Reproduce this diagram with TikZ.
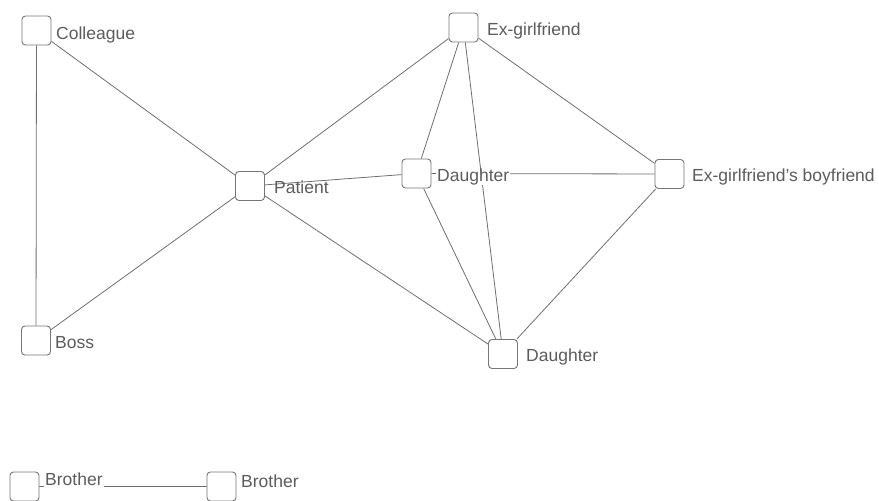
\documentclass[tikz,border=0pt]{standalone}
\usepackage{fontspec}
\setmainfont{Liberation Sans}
\pgfdeclarelayer{bg}
\pgfsetlayers{bg,main}
\definecolor{edgegray}{RGB}{110,110,110}
\definecolor{boxgray}{RGB}{118,118,118}
\definecolor{txtgray}{RGB}{92,92,92}
\begin{document}
\begin{tikzpicture}[x=1pt,y=-1pt,
  person/.style={draw=boxgray, line width=0.9pt, rounded corners=3.5pt, minimum size=29pt, inner sep=0pt, fill=white},
  lbl/.style={fill=white, inner sep=1pt, text=txtgray, font=\fontsize{17.5}{20}\selectfont, anchor=base west, text depth=0.3em, text height=0.75em},
  tie/.style={draw=edgegray, line width=0.8pt}]
\useasboundingbox (0,0) rectangle (879,501);
% boxes
\node[person] (col) at (36.5,30.5) {};
\node[person] (boss) at (36,340.5) {};
\node[person] (pat) at (250,186) {};
\node[person] (exg) at (463.5,27.5) {};
\node[person] (dm) at (416.5,173.5) {};
\node[person] (bf) at (669.5,174) {};
\node[person] (db) at (503,354) {};
\node[person] (br1) at (24.5,486.5) {};
\node[person] (br2) at (221.5,486.5) {};
% labels
\node[lbl] (colL) at (55,39.5) {Colleague};
\node[lbl] (bossL) at (54,348) {Boss};
\node[lbl] (patL) at (273,193) {Patient};
\node[lbl] (exgL) at (486,35) {Ex-girlfriend};
\node[lbl] (dmL) at (436,181) {Daughter};
\node[lbl] (bfL) at (691,181.7) {Ex-girlfriend's boyfriend};
\node[lbl] (dbL) at (525,361.7) {Daughter};
\node[lbl] (br1L) at (44,485) {Brother};
\node[lbl] (br2L) at (240,487) {Brother};
% connectors
\begin{pgfonlayer}{bg}
\draw[tie] (col) -- (boss);
\draw[tie] (col) -- (pat);
\draw[tie] (boss) -- (pat);
\draw[tie] (pat) -- (exg);
\draw[tie] (pat) -- (dm);
\draw[tie] (pat) -- (db);
\draw[tie] (exg) -- (dm);
\draw[tie] (exg) -- (db);
\draw[tie] (exg) -- (bf);
\draw[tie] (dm) -- (bf);
\draw[tie] (dm) -- (db);
\draw[tie] (bf) -- (db);
\draw[tie] (br1) -- (br2);
\end{pgfonlayer}
\end{tikzpicture}
\end{document}
